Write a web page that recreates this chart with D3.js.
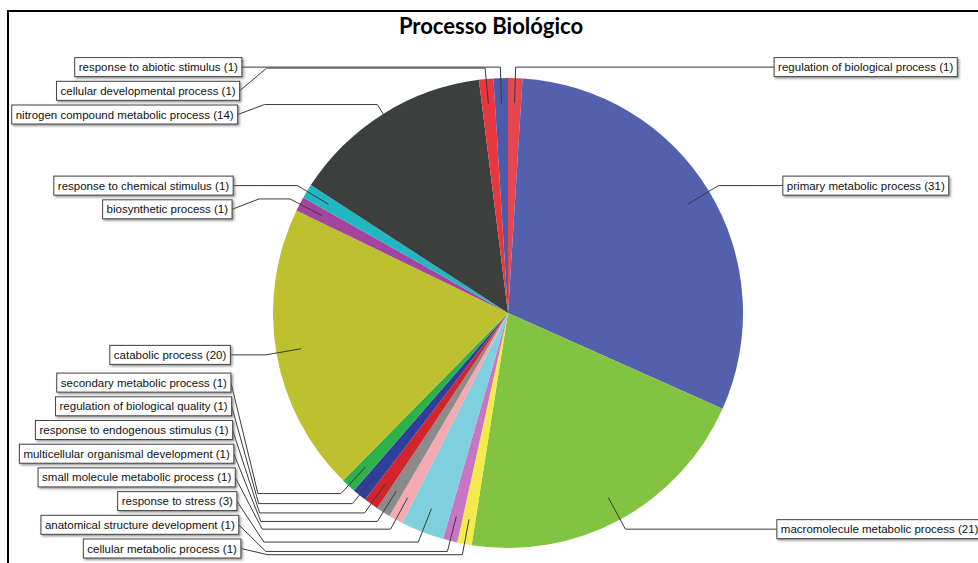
<!DOCTYPE html>
<html>
<head>
<meta charset="utf-8">
<script src="https://cdn.jsdelivr.net/npm/d3@7"></script>
<style>
  html, body { margin: 0; padding: 0; background: #fff; }
  svg { display: block; }
</style>
</head>
<body>
<svg id="chart" width="978" height="563"></svg>
<script>
// GO terms, clockwise from 12 o'clock
const categories = [
  "regulation of biological process",
  "primary metabolic process",
  "macromolecule metabolic process",
  "cellular metabolic process",
  "anatomical structure development",
  "response to stress",
  "small molecule metabolic process",
  "multicellular organismal development",
  "response to endogenous stimulus",
  "regulation of biological quality",
  "secondary metabolic process",
  "catabolic process",
  "biosynthetic process",
  "response to chemical stimulus",
  "nitrogen compound metabolic process",
  "cellular developmental process",
  "response to abiotic stimulus"
];
const counts = [1, 31, 21, 1, 1, 3, 1, 1, 1, 1, 1, 20, 1, 1, 14, 1, 1];
const colors = [
  "#e6464f", "#5360ad", "#82c341", "#f3ea4c", "#c676c2", "#7fd0df",
  "#f5aab1", "#8b8b8b", "#d3242b", "#2e3f9c", "#2eb04b", "#bec12f",
  "#a3449e", "#20b7c2", "#3d3e3e", "#e8383f", "#4b5aa9"
];
const title = "Processo Biológico";

const svg = d3.select("#chart");
const W = 978, H = 563;
const cx = 508, cy = 313, R = 235;
const rAnchor = 210, rElbow = 246;

// frame
svg.append("path")
  .attr("d", `M8,${H} L8,11 L${W},11`)
  .attr("fill", "none").attr("stroke", "#000").attr("stroke-width", 2);

svg.append("text")
  .attr("x", 491).attr("y", 34)
  .attr("text-anchor", "middle")
  .attr("font-family", "Lato, 'Open Sans', sans-serif")
  .attr("font-weight", "bold")
  .attr("font-size", 22)
  .attr("fill", "#000")
  .text(title);

const defs = svg.append("defs");
const f = defs.append("filter").attr("id", "shadow")
  .attr("x", "-10%").attr("y", "-30%").attr("width", "130%").attr("height", "180%");
f.append("feDropShadow").attr("dx", 1.5).attr("dy", 1.5)
  .attr("stdDeviation", 1).attr("flood-color", "#666").attr("flood-opacity", 0.7);

const data = categories.map((c, i) => ({ name: c, value: counts[i], color: colors[i] }));
const pie = d3.pie().sort(null).value(d => d.value).startAngle(0).endAngle(2 * Math.PI);
const arcs = pie(data);
const arc = d3.arc().innerRadius(0).outerRadius(R);

const g = svg.append("g").attr("transform", `translate(${cx},${cy})`);
g.selectAll("path.slice").data(arcs).enter().append("path")
  .attr("class", "slice")
  .attr("d", arc)
  .attr("fill", d => d.data.color);

const polar = (a, r) => [cx + r * Math.sin(a), cy - r * Math.cos(a)];

const labels = arcs.map(d => {
  const a = (d.startAngle + d.endAngle) / 2;
  const p1 = polar(a, rAnchor), p2 = polar(a, rElbow);
  return { d, a, p1, p2, side: a < Math.PI ? "right" : "left", y: p2[1],
           text: `${d.data.name} (${d.data.value})` };
});

// spread labels vertically on each side so the boxes do not overlap
const gap = 23.7, minY = 66, maxY = 548.5;
["left", "right"].forEach(side => {
  const L = labels.filter(l => l.side === side).sort((a, b) => a.y - b.y);
  L.forEach((l, i) => {
    l.ly = Math.max(l.y, minY);
    if (i > 0) l.ly = Math.max(l.ly, L[i - 1].ly + gap);
  });
  for (let i = L.length - 1; i >= 0; i--) {
    if (i === L.length - 1) L[i].ly = Math.min(L[i].ly, maxY);
    else L[i].ly = Math.min(L[i].ly, L[i + 1].ly - gap);
  }
});

// label columns follow a flat ellipse around the pie
const colA = 278, colB = 850, elbowGap = 27;
const boxH = 19, pad = 4;
const fontSize = 11.5;

labels.forEach(l => {
  const dy = l.ly - cy;
  const off = colA * Math.sqrt(Math.max(0, 1 - (dy / colB) ** 2));
  l.edge = l.side === "left" ? cx - off : cx + off;
});

const lab = svg.append("g");
labels.forEach(l => {
  const left = l.side === "left";
  const ex = left ? Math.min(l.edge + elbowGap, l.p2[0]) : Math.max(l.edge - elbowGap, l.p2[0]);
  const pts = [l.p1, l.p2, [ex, l.p2[1]], [l.edge, l.ly]];
  lab.append("path")
    .attr("d", d3.line()(pts))
    .attr("fill", "none").attr("stroke", "#3a3a3a").attr("stroke-width", 1);
});

labels.forEach(l => {
  const left = l.side === "left";
  const grp = lab.append("g");
  const t = grp.append("text")
    .attr("font-family", "'Liberation Sans', Arial, sans-serif")
    .attr("font-size", fontSize)
    .attr("fill", "#111")
    .attr("y", l.ly + 4)
    .text(l.text);
  const tw = t.node().getComputedTextLength();
  const w = tw + 2 * pad;
  const x0 = left ? l.edge - w : l.edge;
  t.attr("x", x0 + pad);
  grp.insert("rect", "text")
    .attr("x", x0).attr("y", l.ly - boxH / 2)
    .attr("width", w).attr("height", boxH)
    .attr("fill", "#fff").attr("stroke", "#444").attr("stroke-width", 1)
    .attr("filter", "url(#shadow)");
});
</script>
</body>
</html>
